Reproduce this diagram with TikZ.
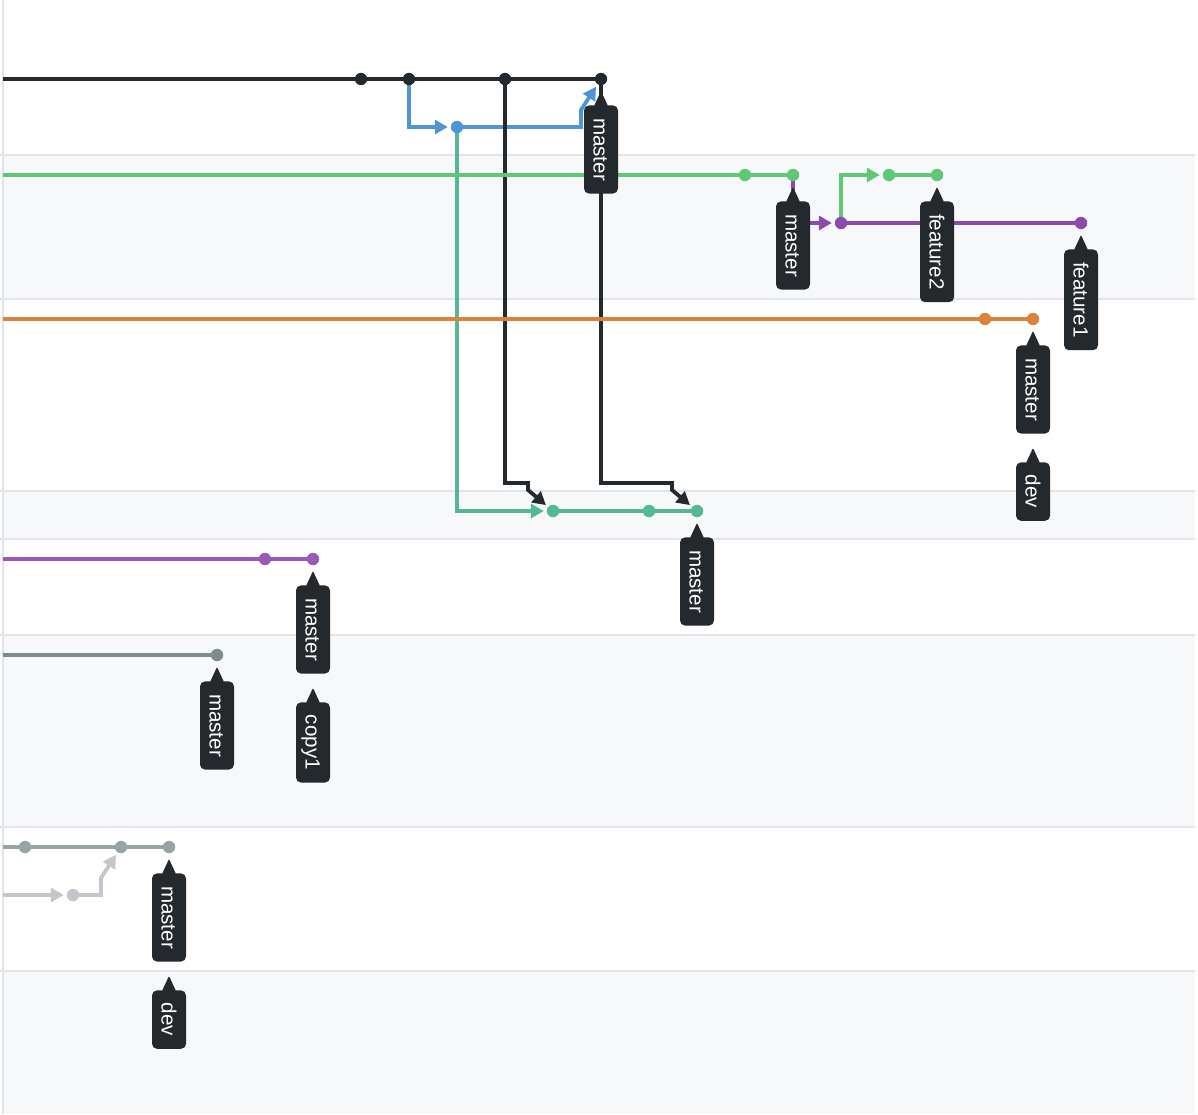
\documentclass[tikz,border=0pt]{standalone}
\usepackage{fontspec}
\usetikzlibrary{calc,positioning,arrows.meta}
\newfontfamily\tagfont{Liberation Sans}

\definecolor{gitblack}{HTML}{24292E}
\definecolor{gitblue}{HTML}{4F95D6}
\definecolor{gitteal}{HTML}{55B894}
\definecolor{gitgreen}{HTML}{5EC877}
\definecolor{gitpurple}{HTML}{8E49AD}
\definecolor{gitorange}{HTML}{D9843A}
\definecolor{gitviolet}{HTML}{9B59B6}
\definecolor{gitslate}{HTML}{7F8C8D}
\definecolor{gitash}{HTML}{95A5A6}
\definecolor{gitsilver}{HTML}{C3C7CB}
\definecolor{bandbg}{HTML}{F6F8FA}
\definecolor{sepline}{HTML}{E1E4E8}
\definecolor{tagbg}{HTML}{24292E}

\pgfdeclarelayer{bands}
\pgfdeclarelayer{edges}
\pgfsetlayers{bands,edges,main}

\tikzset{
    commit/.style={circle, inner sep=0pt, outer sep=0pt, minimum size=6.2pt},
    branch/.style={draw=#1, line width=1.9pt},
    merge/.style={-{Triangle[length=6.5pt,width=7pt]}, shorten >=1.5pt},
    sep/.style={draw=sepline, line width=1pt},
    tag/.style={fill=tagbg, text=white, rounded corners=2.5pt, rotate=-90,
      inner xsep=6.3pt, inner ysep=0pt, minimum height=17pt,
      text height=7.4pt, text depth=0pt,
      font=\tagfont\fontsize{10.3pt}{12pt}\selectfont}
}

\newcommand{\branchtag}[4]{%
    \node[tag, anchor=west] (#1) at ($(#2)+(0,#3)$) {#4};
    \fill[tagbg, rounded corners=0.5pt] ($(#1.west)+(-7,1)$) -- ($(#1.west)+(0,-14)$)
      -- ($(#1.west)+(7,1)$) -- cycle;
}

\begin{document}
\begin{tikzpicture}[x=0.5pt, y=-0.5pt]
    \useasboundingbox (0,0) rectangle (1198,1114);

    \begin{pgfonlayer}{bands}
      \fill[white] (0,0) rectangle (1198,1114);
      \foreach \ya/\yb in {155/299, 491/539, 635/827, 971/1114} {
        \fill[bandbg] (3,\ya) rectangle (1195,\yb);
      }
      \foreach \y in {155,299,491,539,635,827,971} {
        \draw[sep] (0,\y) -- (1195,\y);
      }
      \draw[sep] (3,0) -- (3,1114);
    \end{pgfonlayer}

    \foreach \row/\y in {black/79, green/175, orange/319, violet/559, slate/655, ash/847, silver/895} {
      \coordinate (start-\row) at (3,\y);
    }

    \foreach \x [count=\i] in {361,409,505,601} {
      \node[commit, fill=gitblack] (black\i) at (\x,79) {};
    }
    \node[commit, fill=gitblue] (blue1) at (457,127) {};
    \foreach \x [count=\i] in {745,793,889,937} {
      \node[commit, fill=gitgreen] (green\i) at (\x,175) {};
    }
    \foreach \x [count=\i] in {841,1081} {
      \node[commit, fill=gitpurple] (purple\i) at (\x,223) {};
    }
    \foreach \x [count=\i] in {985,1033} {
      \node[commit, fill=gitorange] (orange\i) at (\x,319) {};
    }
    \foreach \x [count=\i] in {553,649,697} {
      \node[commit, fill=gitteal] (teal\i) at (\x,511) {};
    }
    \foreach \x [count=\i] in {265,313} {
      \node[commit, fill=gitviolet] (violet\i) at (\x,559) {};
    }
    \node[commit, fill=gitslate] (slate1) at (217,655) {};
    \foreach \x [count=\i] in {25,121,169} {
      \node[commit, fill=gitash] (ash\i) at (\x,847) {};
    }
    \node[commit, fill=gitsilver] (silver1) at (73,895) {};

    \begin{pgfonlayer}{edges}
      \draw[branch=gitblack] (start-black) -- (black4.center);
      \draw[branch=gitblue, merge] (black2.center) |- (blue1);
      \draw[branch=gitblue, merge] (blue1.center) -- ($(black4)+(-20,48)$)
        -- ($(black4)+(-20,31)$) -- (black4);
      \draw[branch=gitteal, merge] (blue1.center) |- (teal1);
      \draw[branch=gitteal] (teal1.center) -- (teal3.center);
      \draw[branch=gitblack, merge] (black3.center) |- ($(teal1)+(-25,-28)$)
        -- ($(teal1)+(-25,-21)$) -- (teal1);
      \draw[branch=gitblack, merge] (black4.center) |- ($(teal3)+(-25,-28)$)
        -- ($(teal3)+(-25,-21)$) -- (teal3);

      \draw[branch=gitgreen] (start-green) -- (green2.center);
      \draw[branch=gitpurple, merge] (green2.center) |- (purple1);
      \draw[branch=gitpurple] (purple1.center) -- (purple2.center);
      \draw[branch=gitgreen, merge] (purple1.center) |- (green3);
      \draw[branch=gitgreen] (green3.center) -- (green4.center);

      \draw[branch=gitorange] (start-orange) -- (orange2.center);
      \draw[branch=gitviolet] (start-violet) -- (violet2.center);
      \draw[branch=gitslate] (start-slate) -- (slate1.center);

      \draw[branch=gitash] (start-ash) -- (ash3.center);
      \draw[branch=gitsilver, merge] (start-silver) -- (silver1);
      \draw[branch=gitsilver, merge] (silver1.center) -- ($(silver1)+(28,0)$)
        -- ($(ash2)+(-20,31)$) -- (ash2);
    \end{pgfonlayer}

    \branchtag{tagblack}{black4}{26}{master}
    \branchtag{taggreen}{green2}{26}{master}
    \branchtag{tagfeaturetwo}{green4}{26}{feature2}
    \branchtag{tagfeatureone}{purple2}{26}{feature1}
    \branchtag{tagorange}{orange2}{26}{master}
    \branchtag{tagorangedev}{tagorange.east}{28}{dev}
    \branchtag{tagteal}{teal3}{26}{master}
    \branchtag{tagviolet}{violet2}{26}{master}
    \branchtag{tagvioletcopy}{tagviolet.east}{28}{copy1}
    \branchtag{tagslate}{slate1}{26}{master}
    \branchtag{tagash}{ash3}{26}{master}
    \branchtag{tagashdev}{tagash.east}{28}{dev}
\end{tikzpicture}
\end{document}
